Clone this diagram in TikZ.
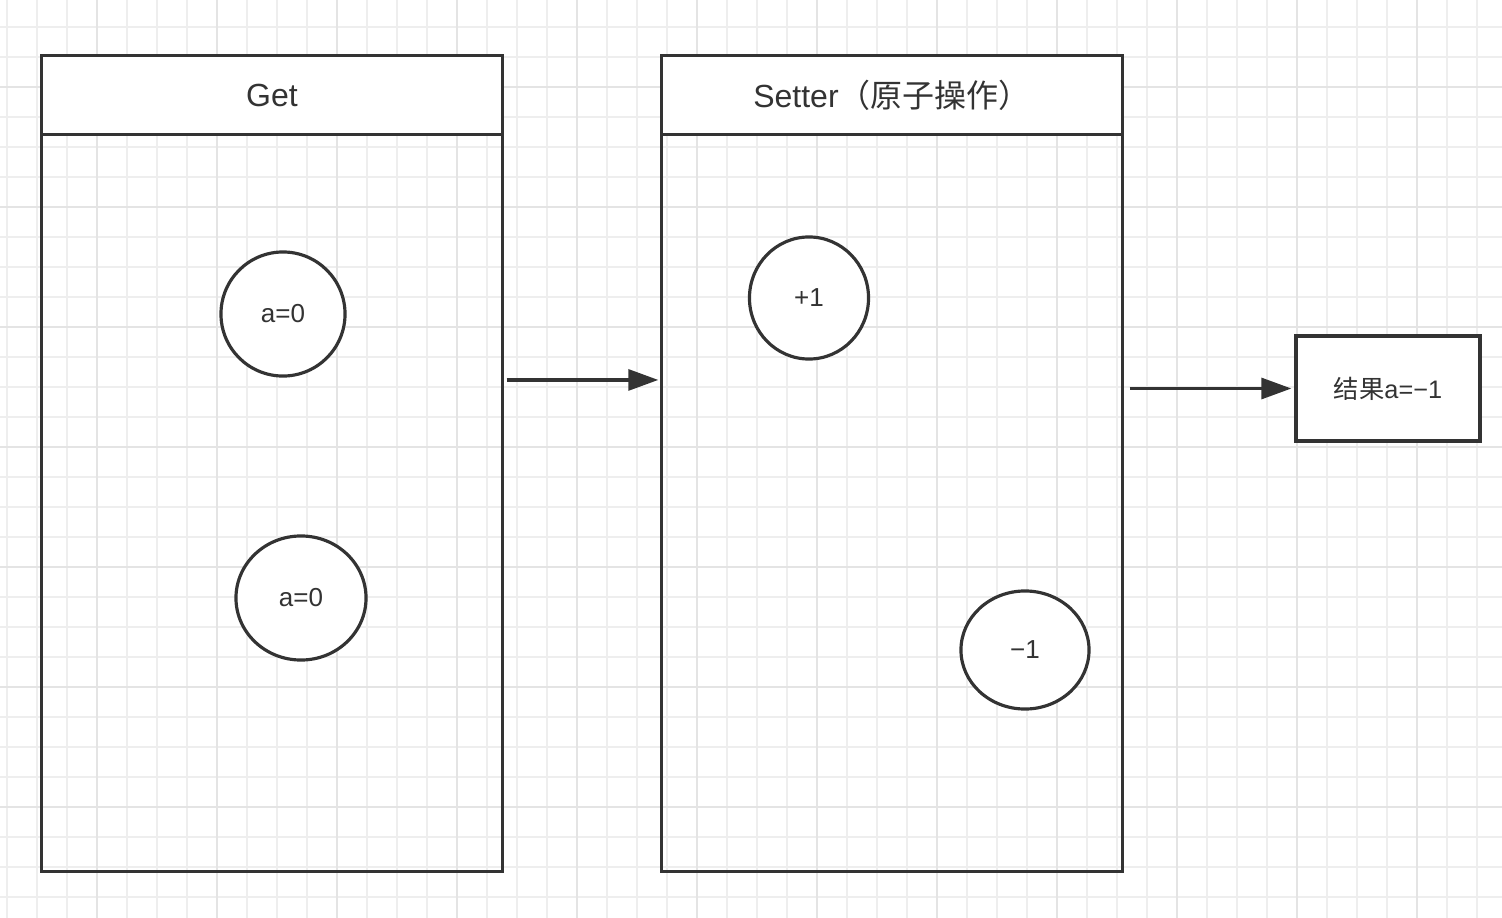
\documentclass[tikz,border=0pt]{standalone}
\usepackage{fontspec}
\setmainfont{Liberation Sans}
\newfontfamily\cjk{Noto Sans CJK SC}
\usetikzlibrary{shapes.geometric, arrows.meta, positioning}
\definecolor{linegray}{RGB}{51,51,51}
\definecolor{gridminor}{RGB}{238,238,238}
\definecolor{gridmajor}{RGB}{228,228,228}

\begin{document}
\begin{tikzpicture}[
    x=0.01cm, y=-0.01cm,
    every node/.style={text=linegray},
    lane/.style={rectangle, draw=linegray, line width=0.9pt,
                 minimum width=4.6cm, minimum height=8.15cm, inner sep=0pt},
    lanehead/.style={rectangle, draw=linegray, line width=0.9pt, fill=white,
                     minimum width=4.6cm, minimum height=0.79cm,
                     font=\fontsize{9.1}{11}\selectfont},
    value/.style={ellipse, draw=linegray, line width=0.9pt, fill=white,
                  inner sep=0pt, font=\fontsize{7.4}{9}\selectfont},
    result/.style={rectangle, draw=linegray, line width=0.9pt, fill=white,
                   minimum width=1.84cm, minimum height=1.05cm,
                   font=\fontsize{7.2}{9}\selectfont},
    arrow/.style={-{Triangle[length=0.30cm, width=0.21cm]}, line width=0.9pt, draw=linegray}
]
\useasboundingbox (0,0) rectangle (1502,918);

% background grid
\foreach \k in {0,...,49} {
    \pgfmathtruncatemacro{\gx}{7+30*\k}
    \draw[gridminor, line width=0.4pt] (\gx,0) -- (\gx,918);
}
\foreach \k in {0,...,30} {
    \pgfmathtruncatemacro{\gy}{27+30*\k}
    \draw[gridminor, line width=0.4pt] (0,\gy) -- (1502,\gy);
}
\foreach \k in {0,...,12} {
    \pgfmathtruncatemacro{\gx}{97+120*\k}
    \draw[gridmajor, line width=0.5pt] (\gx,0) -- (\gx,918);
}
\foreach \k in {0,...,7} {
    \pgfmathtruncatemacro{\gy}{87+120*\k}
    \draw[gridmajor, line width=0.5pt] (0,\gy) -- (1502,\gy);
}

% lanes
\node (get) [lane] at (272,463.5) {};
\node (gethead) [lanehead, anchor=north] at (get.north) {Get};
\node (setter) [lane] at (892,463.5) {};
\node (setterhead) [lanehead, anchor=north] at (setter.north) {Setter{\cjk（原子操作）}};

% values
\node (geta) [value, minimum width=1.24cm, minimum height=1.24cm] at (283,314) {a=0};
\node (getb) [value, minimum width=1.30cm, minimum height=1.24cm] at (301,598) {a=0};
\node (inc) [value, minimum width=1.19cm, minimum height=1.22cm] at (809,298) {+1};
\node (dec) [value, minimum width=1.28cm, minimum height=1.18cm] at (1025,650) {−1};

\node (res) [result] at (1388,388.5) {{\cjk 结果}a=−1};

\draw [arrow] ([xshift=0.03cm, yshift=0.835cm]get.east) -- ([xshift=-0.02cm, yshift=0.835cm]setter.west);
\draw [arrow] ([xshift=0.06cm]setter.east |- res.west) -- ([xshift=-0.03cm]res.west);

\end{tikzpicture}
\end{document}
